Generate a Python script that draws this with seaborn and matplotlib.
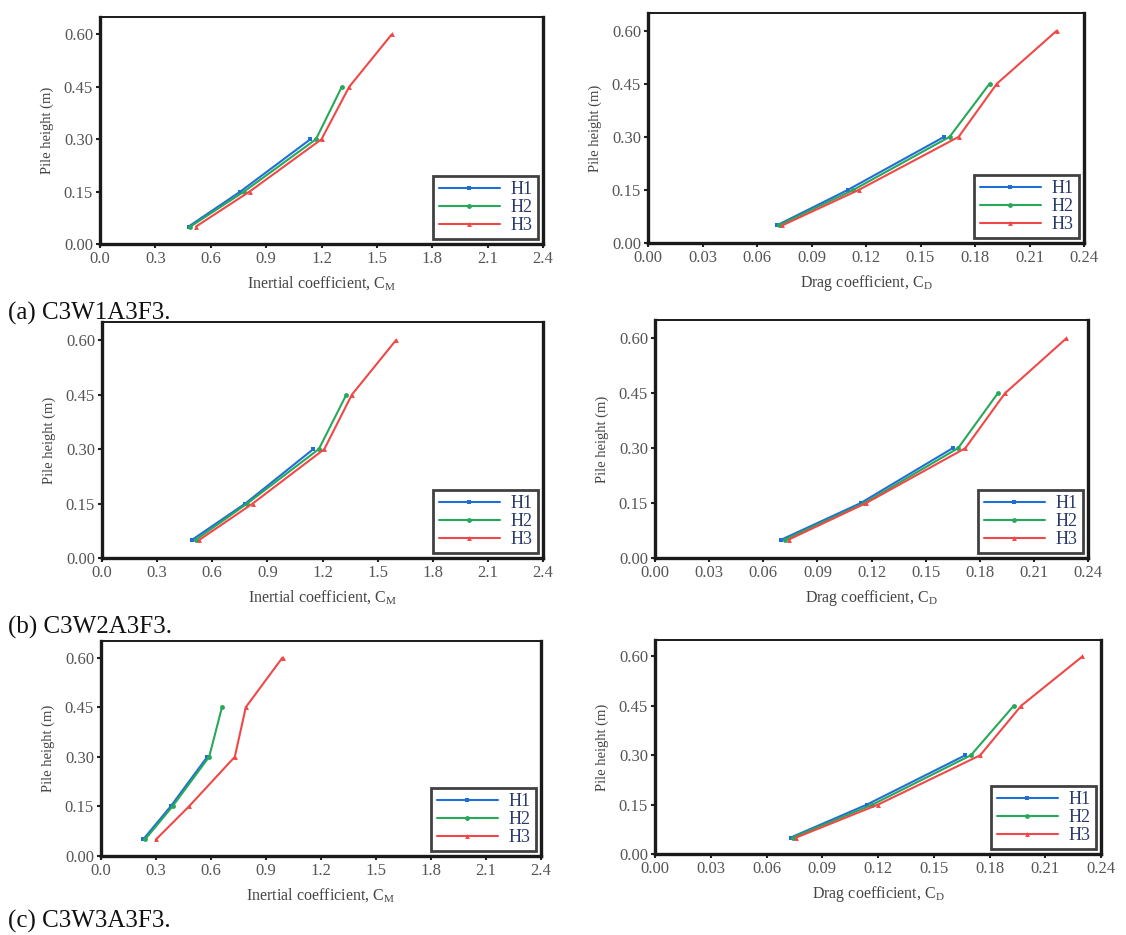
import matplotlib
matplotlib.use("Agg")
import matplotlib.pyplot as plt
import numpy as np
import pandas as pd
import seaborn as sns
from matplotlib.ticker import FixedLocator, FormatStrFormatter

sns.set_theme(style="white")
plt.rcParams["font.family"] = ["Liberation Serif", "DejaVu Serif"]
plt.rcParams["mathtext.fontset"] = "stix"

# Pile heights (m) at which coefficients were evaluated
heights = [0.05, 0.15, 0.30, 0.45, 0.60]
series = ["H1", "H2", "H3"]

# (a) C3W1A3F3
cm_a_h1 = [0.48, 0.76, 1.14]
cm_a_h2 = [0.49, 0.78, 1.17, 1.31]
cm_a_h3 = [0.52, 0.81, 1.20, 1.35, 1.58]
cd_a_h1 = [0.071, 0.110, 0.163]
cd_a_h2 = [0.072, 0.113, 0.166, 0.188]
cd_a_h3 = [0.074, 0.116, 0.171, 0.192, 0.225]

# (b) C3W2A3F3
cm_b_h1 = [0.49, 0.78, 1.15]
cm_b_h2 = [0.51, 0.79, 1.18, 1.33]
cm_b_h3 = [0.53, 0.82, 1.21, 1.36, 1.60]
cd_b_h1 = [0.070, 0.114, 0.165]
cd_b_h2 = [0.072, 0.116, 0.168, 0.190]
cd_b_h3 = [0.074, 0.117, 0.172, 0.194, 0.228]

# (c) C3W3A3F3
cm_c_h1 = [0.23, 0.38, 0.58]
cm_c_h2 = [0.24, 0.39, 0.59, 0.66]
cm_c_h3 = [0.30, 0.48, 0.73, 0.79, 0.99]
cd_c_h1 = [0.073, 0.114, 0.167]
cd_c_h2 = [0.074, 0.117, 0.170, 0.193]
cd_c_h3 = [0.076, 0.120, 0.175, 0.197, 0.230]

captions = ["(a) C3W1A3F3.", "(b) C3W2A3F3.", "(c) C3W3A3F3."]
cm_ticks = [0.0, 0.3, 0.6, 0.9, 1.2, 1.5, 1.8, 2.1, 2.4]
cd_ticks = [0.00, 0.03, 0.06, 0.09, 0.12, 0.15, 0.18, 0.21, 0.24]
h_ticks = [0.00, 0.15, 0.30, 0.45, 0.60]

palette = {"H1": "#1f6fd6", "H2": "#27a85a", "H3": "#f04848"}
markers = {"H1": "s", "H2": "o", "H3": "^"}


def frame(vals):
    rows = []
    for name, xs in zip(series, vals):
        for x, h in zip(xs, heights):
            rows.append({"coef": x, "height": h, "case": name})
    return pd.DataFrame(rows)


def draw(ax, vals, ticks, fmt, xlabel):
    df = frame(vals)
    sns.lineplot(data=df, x="coef", y="height", hue="case", style="case",
                 palette=palette, markers=markers, dashes=False, sort=False,
                 estimator=None, markersize=3.5, linewidth=1.5,
                 markeredgewidth=0, ax=ax)
    ax.set_xlim(ticks[0], ticks[-1])
    ax.set_ylim(0, 0.65)
    ax.xaxis.set_major_locator(FixedLocator(ticks))
    ax.yaxis.set_major_locator(FixedLocator(h_ticks))
    ax.xaxis.set_major_formatter(FormatStrFormatter(fmt))
    ax.yaxis.set_major_formatter(FormatStrFormatter("%.2f"))
    ax.tick_params(axis="both", direction="out", length=3, width=1.5,
                   colors="#222222", labelcolor="#555555", labelsize=12,
                   pad=2, bottom=True, left=True)
    for side in ["left", "bottom", "right"]:
        ax.spines[side].set_linewidth(2.4)
        ax.spines[side].set_color("#1a1a1a")
    ax.spines["top"].set_linewidth(1.4)
    ax.spines["top"].set_color("#1a1a1a")
    ax.set_xlabel(xlabel, fontsize=11.5, color="#444444", labelpad=5)
    ax.set_ylabel("Pile height (m)", fontsize=10.5, color="#444444", labelpad=7)
    leg = ax.legend(loc="lower right", fontsize=13, frameon=True, fancybox=False,
                    handlelength=3.4, borderaxespad=0.25, labelspacing=0.05,
                    handletextpad=0.6, borderpad=0.3)
    leg.get_frame().set_edgecolor("#111111")
    leg.get_frame().set_linewidth(2.0)
    for t in leg.get_texts():
        t.set_color("#2a3a6a")


fig = plt.figure(figsize=(11.26, 9.35), dpi=100)
W, H = 1126, 935


def box(x0, y0, x1, y1):
    return [x0 / W, 1 - y1 / H, (x1 - x0) / W, (y1 - y0) / H]


left_boxes = [box(100, 17, 543, 244), box(102, 322, 543, 558), box(101, 641, 541, 856)]
right_boxes = [box(648, 13, 1084, 243), box(655, 320, 1088, 558), box(655, 640, 1101, 854)]
caption_y = [320, 634, 928]

cm_sets = [(cm_a_h1, cm_a_h2, cm_a_h3), (cm_b_h1, cm_b_h2, cm_b_h3), (cm_c_h1, cm_c_h2, cm_c_h3)]
cd_sets = [(cd_a_h1, cd_a_h2, cd_a_h3), (cd_b_h1, cd_b_h2, cd_b_h3), (cd_c_h1, cd_c_h2, cd_c_h3)]

for i in range(3):
    axl = fig.add_axes(left_boxes[i])
    draw(axl, cm_sets[i], cm_ticks, "%.1f", r"Inertial coefficient, C$_\mathregular{M}$")
    axr = fig.add_axes(right_boxes[i])
    draw(axr, cd_sets[i], cd_ticks, "%.2f", r"Drag coefficient, C$_\mathregular{D}$")
    fig.text(8 / W, 1 - caption_y[i] / H, captions[i], fontsize=18,
             color="#111111", ha="left", va="baseline")

fig.savefig("out.png", dpi=100)
